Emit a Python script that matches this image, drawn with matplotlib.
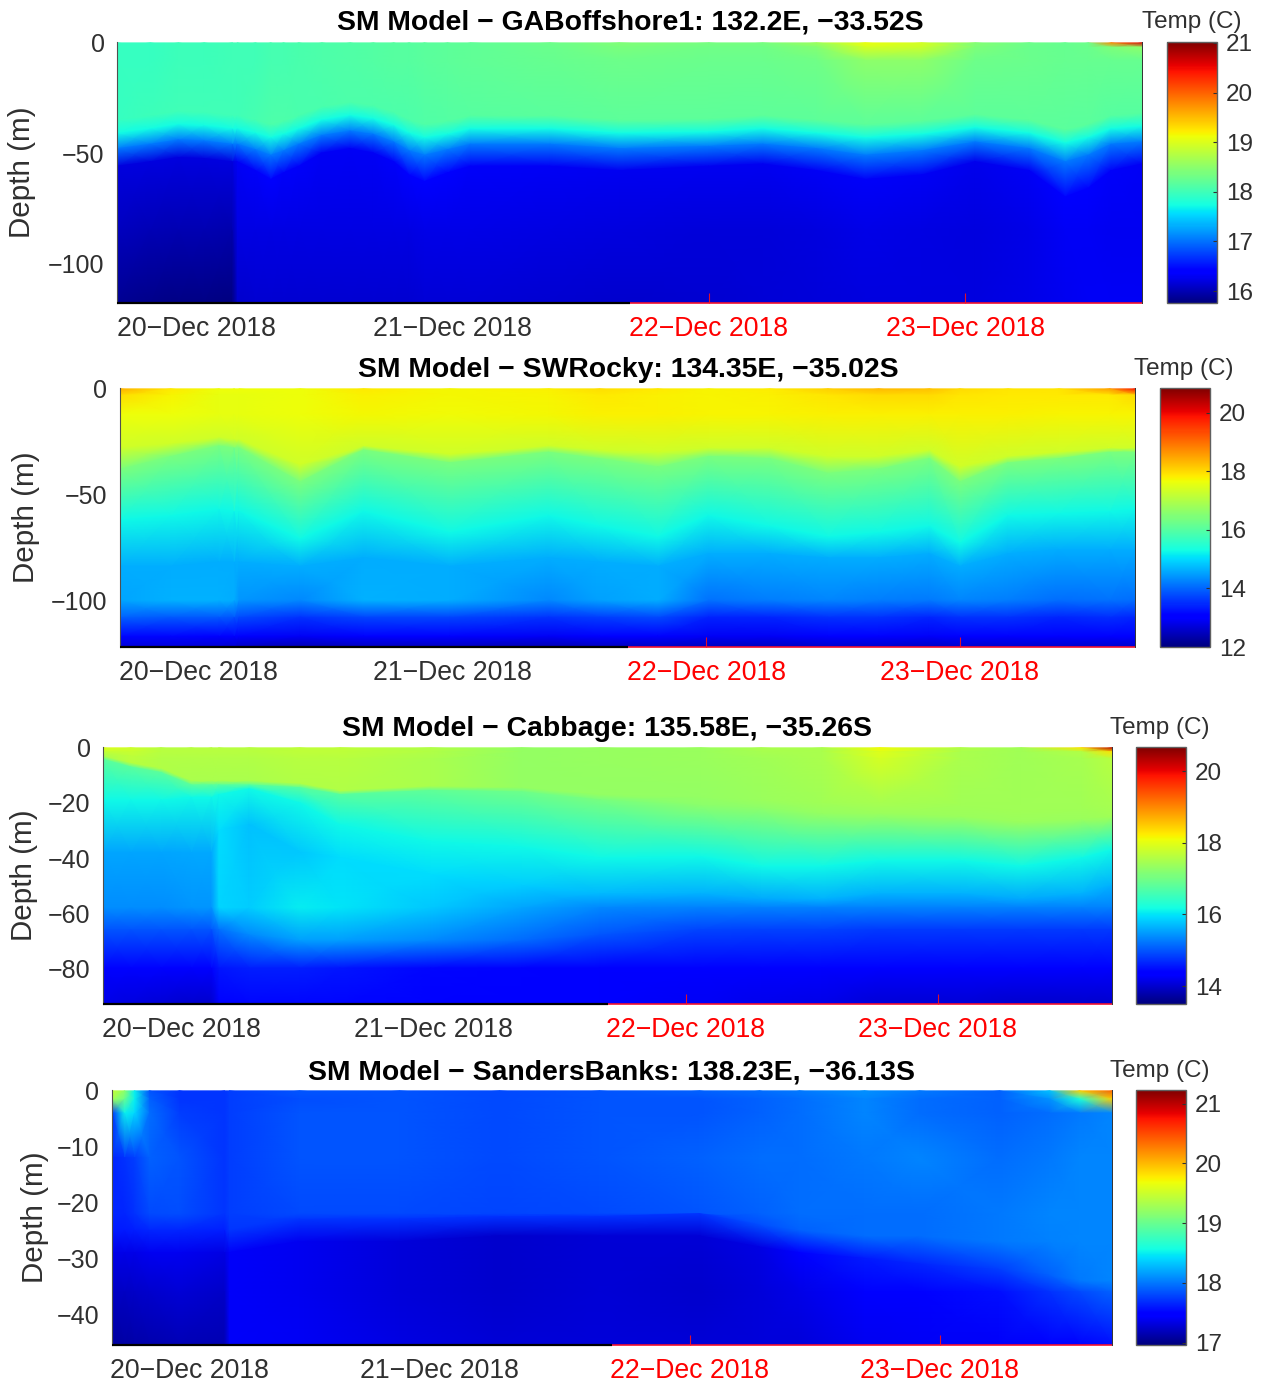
import numpy as np
import matplotlib
matplotlib.use('Agg')
import matplotlib.pyplot as plt

W, H = 1263, 1382
plt.rcParams['font.family'] = ['Liberation Sans', 'DejaVu Sans']

date_ticks = [20, 21, 22, 23]
date_labels = ['20\u2212Dec 2018', '21\u2212Dec 2018', '22\u2212Dec 2018', '23\u2212Dec 2018']
forecast_start = 21.69

# GABoffshore1
ga_title = 'SM Model \u2212 GABoffshore1: 132.2E, \u221233.52S'
ga_days = [19.69,19.82,19.93,20.03,20.14,20.16,20.23,20.29,20.34,20.40,20.49,20.60,20.69,20.77,20.83,20.89,20.98,21.07,21.38,21.65,22.0,22.21,22.42,22.61,22.83,23.04,23.25,23.39,23.48,23.57,23.69]
ga_upper = [-35,-33,-31,-31.5,-33,-33,-35,-37,-35.5,-33,-29,-27,-28.5,-31.5,-35,-37,-35.5,-33,-33,-35,-34.5,-33,-35,-37,-35.5,-32.5,-35,-39.5,-37,-33,-32]
ga_cyan = [-41,-39,-37,-37.5,-39,-39,-41,-43,-41.5,-39,-35,-33,-34.5,-37.5,-41,-43,-41.5,-39,-39,-41,-40.5,-39,-41,-43,-41.5,-38.5,-41,-45.5,-43,-39,-38]
ga_lower = [-48,-46,-44,-44.5,-46,-46,-48.5,-51,-49,-46,-42,-40,-41.5,-45,-49,-51,-48.5,-46,-46,-48,-47,-46,-48,-51,-49,-45,-48,-54,-51,-46,-45]
ga_base = [-56,-54,-52,-52.5,-54,-54,-58,-62,-59,-56,-50,-48,-50,-54,-60,-63,-59,-56,-56,-58,-56,-55,-58,-62,-60,-54,-58,-70,-66,-58,-55]
ga_depths = [0, -2, -8, ga_upper, ga_cyan, ga_lower, ga_base, -85, -118]
ga_temps = [
    [17.95,17.95,17.98,17.99,18.0,18.0,18.02,18.05,18.06,18.08,18.1,18.12,18.13,18.15,18.16,18.18,18.2,18.22,18.3,18.42,18.35,18.35,18.6,19.1,18.95,18.45,18.3,18.25,18.3,19.8,20.6],
    [17.95,17.95,17.98,17.99,18.0,18.0,18.02,18.05,18.06,18.08,18.1,18.12,18.13,18.15,18.16,18.18,18.2,18.22,18.28,18.38,18.32,18.32,18.45,18.95,18.9,18.4,18.28,18.25,18.28,18.4,18.5],
    [17.95,17.95,17.98,17.99,18.0,18.0,18.02,18.05,18.06,18.08,18.1,18.12,18.13,18.15,18.16,18.18,18.2,18.22,18.25,18.3,18.28,18.28,18.32,18.5,18.5,18.3,18.28,18.25,18.25,18.25,18.25],
    [17.95,17.98,18.0,18.01,18.02,18.02,18.05,18.1,18.1,18.08,18.08,18.1,18.1,18.1,18.1,18.12,18.14,18.15,18.18,18.2,18.2,18.2,18.2,18.2,18.2,18.2,18.2,18.18,18.18,18.15,18.15],
    17.72,
    17.05,
    [16.2,16.2,16.2,16.2,16.2,16.3,16.33,16.35,16.33,16.32,16.3,16.3,16.3,16.32,16.34,16.35,16.34,16.33,16.3,16.28,16.28,16.28,16.3,16.33,16.3,16.26,16.3,16.38,16.36,16.33,16.3],
    [16.05,16.02,16.0,15.99,15.98,16.22,16.22,16.22,16.22,16.22,16.22,16.22,16.22,16.22,16.23,16.24,16.24,16.24,16.22,16.2,16.18,16.18,16.2,16.24,16.22,16.2,16.24,16.3,16.3,16.28,16.28],
    [15.85,15.82,15.8,15.79,15.78,16.12,16.13,16.14,16.14,16.14,16.14,16.15,16.15,16.15,16.15,16.16,16.16,16.16,16.15,16.12,16.14,16.16,16.18,16.2,16.2,16.2,16.24,16.28,16.3,16.3,16.3],
]
ga_ticks = [0, -50, -100]
ga_bar_ticks = [16, 17, 18, 19, 20, 21]

# SWRocky
sw_title = 'SM Model \u2212 SWRocky: 134.35E, \u221235.02S'
sw_days = [19.69,19.89,20.08,20.14,20.16,20.40,20.65,20.99,21.38,21.58,21.81,22.01,22.25,22.48,22.68,22.88,23.0,23.19,23.39,23.59,23.69]
sw_lime = [-28,-26,-23,-24,-24,-36,-27,-31,-27,-29,-30,-28,-28,-32,-32,-29,-37,-32,-30,-28,-28]
sw_green = [-38,-32,-27,-28,-28,-44,-29,-35,-30,-33,-37,-32,-33,-40,-38,-33,-44,-35,-33,-30,-30]
sw_cyan = [-62,-60,-57,-58,-58,-71,-58,-68,-60,-65,-70,-60,-65,-70,-68,-65,-73,-60,-59,-58,-57]
sw_light = [-84,-84,-82,-82,-82,-84,-80,-84,-80,-82,-84,-78,-78,-80,-80,-78,-84,-78,-76,-76,-76]
sw_depths = [0, -3, -12, sw_lime, sw_green, sw_cyan, sw_light, -100, -108, -117, -122]
sw_temps = [
    [18.4,17.85,17.65,17.65,17.65,17.65,17.85,17.72,17.78,17.95,17.85,17.75,17.82,18.1,18.3,18.25,18.0,17.9,17.9,18.6,19.9],
    [17.95,17.75,17.6,17.6,17.6,17.65,17.8,17.72,17.75,17.85,17.8,17.75,17.78,17.9,18.0,18.0,17.9,17.85,17.85,17.85,18.0],
    [17.65,17.65,17.6,17.6,17.6,17.65,17.72,17.7,17.72,17.78,17.78,17.75,17.76,17.78,17.78,17.8,17.78,17.78,17.76,17.75,17.75],
    17.3,
    16.4,
    15.26,
    14.6,
    [14.55,14.65,14.65,14.6,14.4,14.3,14.65,14.6,14.3,14.5,14.6,14.1,14.2,14.25,14.2,14.15,14.25,14.2,14.05,14.1,14.05],
    [13.95,13.9,13.9,13.85,13.75,13.55,13.7,13.7,13.55,13.65,13.75,13.4,13.45,13.55,13.55,13.45,13.55,13.55,13.45,13.5,13.45],
    [13.15,13.15,13.1,13.05,13.0,12.9,13.0,13.0,12.9,13.0,13.05,12.9,12.9,13.0,13.0,12.95,13.0,13.0,13.0,13.0,13.0],
    [12.7,12.7,12.65,12.6,12.55,12.4,12.5,12.5,12.4,12.5,12.55,12.5,12.5,12.6,12.6,12.55,12.6,12.6,12.6,12.6,12.6],
]
sw_ticks = [0, -50, -100]
sw_bar_ticks = [12, 14, 16, 18, 20]

# Cabbage
cb_title = 'SM Model \u2212 Cabbage: 135.58E, \u221235.26S'
cb_days = [19.69,19.80,19.92,20.04,20.12,20.15,20.27,20.47,20.63,20.99,21.35,21.66,22.06,22.30,22.54,22.77,23.09,23.33,23.57,23.69]
cb_top = [-2.4,-3,-4,-4,-4,-4,-4,-4,-4,-4,-4,-4,-4,-4,-4,-4,-4,-4,-4,-4]
cb_above = [-3,-5.5,-7.5,-12,-12,-12,-12,-13,-15.5,-14,-14.5,-17,-18,-19,-20,-20,-21,-23,-22,-21]
cb_front = [-4.2,-7,-9,-13.5,-13.5,-13.5,-13.5,-14.5,-17,-15.5,-16,-19,-21,-22,-24,-24,-25,-27,-26,-25]
cb_cyan = [-19,-19,-19,-18,-18,-17,-15,-20,-28,-34,-36,-40,-39.5,-43,-43,-41,-41,-43,-40,-37]
cb_mid = [-38,-38,-38,-38,-38,-30,-28,-38,-40,-46,-50,-53,-53,-55,-55,-53,-53,-55,-53,-50]
cb_deep = [-66,-66,-66,-66,-66,-66,-68,-70,-70,-70,-70,-68,-66,-66,-66,-66,-66,-66,-66,-66]
cb_depths = [0, -1.5, cb_top, cb_above, cb_front, cb_cyan, cb_mid, -58, cb_deep, -80, -93]
cb_temps = [
    [17.95,17.8,17.6,17.6,17.6,17.6,17.6,17.65,17.65,17.55,17.3,17.32,17.35,17.5,17.5,18.1,17.55,17.4,18.3,20.3],
    [17.7,17.75,17.6,17.6,17.6,17.6,17.6,17.65,17.65,17.55,17.3,17.32,17.35,17.45,17.5,17.95,17.5,17.4,17.55,18.3],
    [17.55,17.65,17.55,17.55,17.55,17.55,17.55,17.6,17.6,17.5,17.3,17.32,17.35,17.4,17.5,17.85,17.5,17.4,17.45,17.6],
    [17.5,17.6,17.55,17.5,17.5,17.5,17.5,17.55,17.55,17.5,17.3,17.3,17.3,17.35,17.4,17.45,17.4,17.4,17.4,17.45],
    [16.8,16.8,16.8,16.8,16.8,16.75,16.75,16.75,16.75,16.85,16.95,17.05,17.2,17.25,17.3,17.35,17.35,17.35,17.35,17.4],
    16.15,
    [15.55,15.55,15.55,15.6,15.6,15.95,15.75,15.8,15.95,15.95,15.85,15.7,15.65,15.6,15.65,15.65,15.65,15.6,15.65,15.65],
    [15.4,15.4,15.4,15.45,15.45,15.9,15.85,16.05,16.0,15.8,15.55,15.35,15.3,15.3,15.3,15.3,15.3,15.3,15.3,15.3],
    [15.0,15.0,15.0,15.0,15.0,15.2,15.35,15.5,15.5,15.35,15.15,15.0,14.9,14.85,14.85,14.8,14.8,14.8,14.8,14.8],
    [14.4,14.4,14.4,14.35,14.35,14.55,14.6,14.6,14.55,14.45,14.4,14.35,14.35,14.3,14.3,14.3,14.3,14.3,14.3,14.3],
    [14.15,14.1,14.05,14.0,14.0,14.35,14.45,14.45,14.45,14.4,14.35,14.3,14.25,14.2,14.15,14.05,14.05,14.0,14.0,14.0],
]
cb_ticks = [0, -20, -40, -60, -80]
cb_bar_ticks = [14, 16, 18, 20]

# SandersBanks
sb_title = 'SM Model \u2212 SandersBanks: 138.23E, \u221236.13S'
sb_days = [19.69,19.74,19.78,19.84,19.96,20.14,20.16,20.44,20.84,21.24,21.64,22.04,22.28,22.44,22.70,22.92,23.24,23.44,23.56,23.69]
sb_upper = [-25,-25,-25,-25,-25,-25,-25,-23,-23,-22.5,-22.5,-22,-24,-25,-26,-26,-27,-27,-27,-27]
sb_lower = [-29,-29,-29,-29,-29,-29,-29,-27,-27,-26,-26,-26,-28,-29,-30,-31,-32,-33,-34,-34]
sb_depths = [0, -1.5, -4, -12, -22, sb_upper, sb_lower, -36, -45.5]
sb_temps = [
    [19.5,19.2,18.5,17.85,17.72,17.72,17.76,17.85,17.85,17.8,17.85,17.9,17.95,18.0,18.1,18.0,17.9,18.3,19.9,20.4],
    [19.3,19.0,18.5,17.9,17.72,17.72,17.76,17.82,17.85,17.8,17.85,17.85,17.9,17.95,18.05,17.95,17.9,18.1,18.6,19.9],
    [17.7,18.5,18.4,17.95,17.75,17.72,17.76,17.85,17.85,17.8,17.85,17.85,17.9,17.95,18.05,17.95,17.9,17.95,18.0,18.05],
    [17.65,17.7,17.75,17.9,17.85,17.72,17.76,17.85,17.85,17.8,17.85,17.9,17.95,17.95,18.0,18.05,17.95,18.0,18.05,18.05],
    [17.65,17.65,17.7,17.8,17.82,17.72,17.76,17.8,17.8,17.78,17.8,17.85,17.9,17.95,17.95,17.95,18.0,18.05,18.05,18.05],
    [17.6,17.6,17.62,17.65,17.65,17.62,17.72,17.72,17.7,17.7,17.7,17.72,17.82,17.9,17.95,17.95,18.0,18.03,18.05,18.05],
    [17.35,17.35,17.35,17.38,17.38,17.33,17.42,17.38,17.3,17.25,17.28,17.28,17.33,17.45,17.6,17.65,17.75,17.9,18.0,18.05],
    [17.22,17.22,17.24,17.26,17.28,17.24,17.42,17.38,17.3,17.26,17.28,17.26,17.3,17.36,17.45,17.47,17.55,17.7,17.8,17.9],
    [17.08,17.1,17.12,17.14,17.17,17.16,17.42,17.4,17.33,17.28,17.3,17.28,17.3,17.3,17.38,17.4,17.42,17.45,17.5,17.55],
]
sb_ticks = [0, -10, -20, -30, -40]
sb_bar_ticks = [17, 18, 19, 20, 21]


def px_rect(x0, y0, x1, y1):
    return [x0 / W, 1 - y1 / H, (x1 - x0) / W, (y1 - y0) / H]


def fill_rows(rows, n):
    return np.array([np.full(n, float(r)) if np.isscalar(r) else np.array(r, float) for r in rows])


def draw_panel(fig, days, depths, temps, title, yticks, bar_ticks, box, bar_box, ylim, clim, xlim,
               title_pos, temp_pos, ylabel_pos):
    ax = fig.add_axes(px_rect(*box))
    n = len(days)
    D = fill_rows(depths, n)
    T = fill_rows(temps, n)
    X = np.tile(np.array(days), (D.shape[0], 1))
    mesh = ax.pcolormesh(X, D, T, shading='gouraud', cmap='jet', vmin=clim[0], vmax=clim[1], rasterized=True)
    ax.set_xlim(xlim)
    ax.set_ylim(ylim)
    ax.set_yticks(yticks)
    ax.set_yticklabels([str(v).replace('-', '\u2212') for v in yticks])
    ax.set_xticks(date_ticks)
    ax.set_xticklabels(date_labels)
    ax.tick_params(axis='y', length=0, pad=9, labelsize=18, labelcolor='#303030')
    ax.tick_params(axis='x', direction='in', length=7, width=0.8, pad=9.5, labelsize=19.2, labelcolor='#303030')
    for i, tick in enumerate(ax.xaxis.get_major_ticks()):
        if date_ticks[i] >= forecast_start:
            tick.tick1line.set_markeredgecolor('#e0102a')
            tick.label1.set_color('#ff0000')
        else:
            tick.tick1line.set_visible(False)
    ax.spines['top'].set_visible(False)
    ax.spines['bottom'].set_visible(False)
    ax.spines['left'].set_linewidth(0.8)
    ax.spines['left'].set_color('#505050')
    ax.spines['right'].set_linewidth(0.7)
    ax.spines['right'].set_color('#303030')
    tr = ax.get_xaxis_transform()
    ax.plot([xlim[0], forecast_start], [0, 0], color='black', lw=1.6, transform=tr, clip_on=False,
            solid_capstyle='butt', zorder=5)
    ax.plot([forecast_start, xlim[1]], [0, 0], color='#f01030', lw=1.2, transform=tr, clip_on=False,
            solid_capstyle='butt', zorder=5)

    cax = fig.add_axes(px_rect(*bar_box))
    cb = fig.colorbar(mesh, cax=cax)
    cb.set_ticks(bar_ticks)
    cb.ax.tick_params(direction='in', length=3, width=0.8, color='#303030', pad=6.5, labelsize=17.5, labelcolor='#303030')
    cb.outline.set_edgecolor('#606060')
    cb.outline.set_linewidth(1)

    fig.text(title_pos[0] / W, 1 - title_pos[1] / H, title, ha='center', va='center',
             fontsize=20.4, fontweight='bold', color='black')
    fig.text(temp_pos[0] / W, 1 - temp_pos[1] / H, 'Temp (C)', ha='center', va='center',
             fontsize=17.5, color='#303030')
    fig.text(ylabel_pos[0] / W, 1 - ylabel_pos[1] / H, 'Depth (m)', ha='center', va='center',
             rotation=90, fontsize=21.3, color='#303030')


fig = plt.figure(figsize=(W / 100, H / 100), dpi=100)

draw_panel(fig, ga_days, ga_depths, ga_temps, ga_title, ga_ticks, ga_bar_ticks,
           (117, 42, 1142, 303), (1167, 42, 1217, 303), (-118, 0.4), (15.76, 21.02), (19.69, 23.69),
           (630, 23), (1192, 22), (22, 172))
draw_panel(fig, sw_days, sw_depths, sw_temps, sw_title, sw_ticks, sw_bar_ticks,
           (120, 388, 1135, 647), (1160, 388, 1210, 647), (-122, 0.4), (12.0, 20.85), (19.69, 23.69),
           (628, 370), (1184, 369), (26, 517))
draw_panel(fig, cb_days, cb_depths, cb_temps, cb_title, cb_ticks, cb_bar_ticks,
           (103, 747, 1112, 1004), (1136, 747, 1186, 1004), (-93, 0.3), (13.5, 20.67), (19.69, 23.69),
           (607, 729), (1160, 728), (24, 875))
draw_panel(fig, sb_days, sb_depths, sb_temps, sb_title, sb_ticks, sb_bar_ticks,
           (112, 1090, 1112, 1345), (1136, 1090, 1186, 1345), (-45.5, 0.15), (16.96, 21.23), (19.69, 23.69),
           (612, 1072), (1160, 1071), (35, 1217))

fig.savefig('out.png', dpi=100)
